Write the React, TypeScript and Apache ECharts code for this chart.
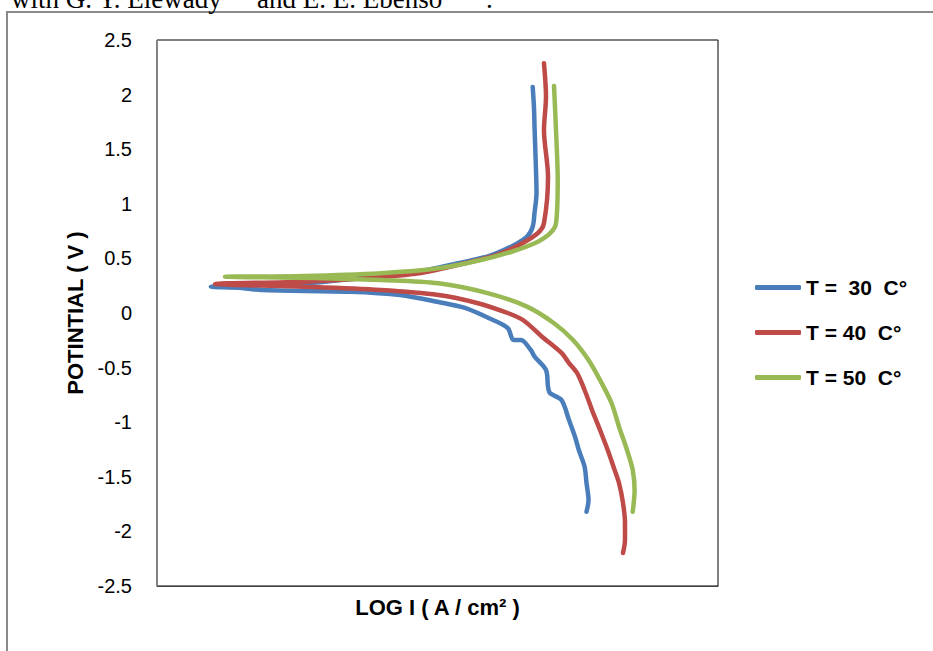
import React, { useEffect, useRef } from "react";
import * as echarts from "echarts";

// x: relative log I position (axis has no labels), y: potential (V)
const seriesNames = ["T =  30  C°", "T = 40  C°", "T = 50  C°"];
const seriesColors = ["#4A7EBB", "#BE4B48", "#98B954"];

const t30: [number, number][] = [
  [66.97, 2.07], [67.2, 1.88], [67.31, 1.68], [67.5, 1.4], [67.65, 1.1], [67.3, 0.92], [66.97, 0.79],
  [65.95, 0.7], [63.19, 0.61], [59.09, 0.52], [53.6, 0.455], [46.7, 0.38], [36.45, 0.32],
  [26.17, 0.27], [9.6, 0.24],
  [15.15, 0.23], [18.63, 0.21], [34.4, 0.195], [43.32, 0.165], [50.18, 0.1], [54.9, 0.046],
  [59.09, -0.046], [62.51, -0.137], [63.55, -0.247], [64.88, -0.247], [66.63, -0.339],
  [67.31, -0.4], [69.34, -0.522], [69.7, -0.675], [70.05, -0.733], [72.1, -0.797],
  [73.44, -0.98], [74.51, -1.133], [75.19, -1.255], [76.22, -1.408], [76.56, -1.557],
  [76.92, -1.712], [76.56, -1.82],
];

const t40: [number, number][] = [
  [68.98, 2.287], [69.34, 1.98], [68.98, 1.676], [69.7, 1.248], [68.98, 0.824], [67.91, 0.733],
  [64.53, 0.623], [60.43, 0.531], [54.9, 0.455], [46.7, 0.364], [37.08, 0.318], [26.2, 0.287],
  [10.34, 0.266],
  [26.2, 0.241], [39.89, 0.211], [50.18, 0.165], [57.04, 0.092], [62.51, 0.0], [65.24, -0.064],
  [68.63, -0.217], [72.1, -0.366], [73.44, -0.458], [74.87, -0.549], [76.22, -0.705],
  [77.54, -0.888], [78.97, -1.071], [80.34, -1.255], [81.37, -1.408], [82.35, -1.557],
  [83.07, -1.74], [83.42, -1.923], [83.42, -2.079], [83.07, -2.198],
];

const t50: [number, number][] = [
  [70.77, 2.079], [71.12, 1.676], [71.43, 1.218], [71.12, 0.821], [70.05, 0.73], [67.31, 0.638],
  [63.19, 0.561], [57.72, 0.485], [50.18, 0.409], [39.89, 0.364], [26.17, 0.339], [12.12, 0.332],
  [28.16, 0.321], [39.89, 0.302], [50.18, 0.272], [59.09, 0.18], [65.95, 0.058], [70.77, -0.094],
  [74.15, -0.247], [76.92, -0.43], [78.97, -0.614], [81.02, -0.824], [82.35, -1.041],
  [83.78, -1.255], [84.8, -1.438], [85.13, -1.621], [84.8, -1.82],
];

const seriesData = [t30, t40, t50];

const yMin = -2.5;
const yMax = 2.5;
const yInterval = 0.5;

const headerFont = "27px 'Liberation Serif', 'Times New Roman', serif";

export default function App() {
  const ref = useRef<HTMLDivElement>(null);

  useEffect(() => {
    if (!ref.current) return;
    const chart = echarts.init(ref.current, undefined, { renderer: "svg" });
    chart.setOption({
      animation: false,
      backgroundColor: "#ffffff",
      textStyle: { fontFamily: "Liberation Sans, Arial, sans-serif" },
      graphic: [
        {
          type: "rect",
          shape: { x: 7, y: 12, width: 1000, height: 700 },
          style: { fill: "none", stroke: "#8a8a8a", lineWidth: 2 },
          silent: true,
        },
        {
          type: "text",
          x: 11,
          y: 12,
          style: { text: "with G. Y. Elewady", font: headerFont, fill: "#000", verticalAlign: "bottom" },
        },
        {
          type: "text",
          x: 257,
          y: 12,
          style: { text: "and E. E. Ebenso", font: headerFont, fill: "#000", verticalAlign: "bottom" },
        },
        {
          type: "text",
          x: 486,
          y: 12,
          style: { text: ".", font: headerFont, fill: "#000", verticalAlign: "bottom" },
        },
      ],
      grid: {
        left: 157,
        top: 40,
        width: 561,
        height: 546,
        show: true,
        borderColor: "#000",
        borderWidth: 1,
        containLabel: false,
      },
      legend: {
        orient: "vertical",
        left: 750,
        top: 272,
        itemGap: 24,
        itemWidth: 46,
        itemHeight: 5,
        icon: "roundRect",
        data: seriesNames,
        textStyle: { fontSize: 21, fontWeight: "bold", color: "#000" },
      },
      xAxis: {
        type: "value",
        min: 0,
        max: 100,
        axisLabel: { show: false },
        axisTick: { show: false },
        splitLine: { show: false },
        axisLine: { show: true, onZero: false, lineStyle: { color: "#404040", width: 1 } },
        name: "LOG I ( A / cm² )",
        nameLocation: "middle",
        nameGap: 21,
        nameTextStyle: {
          fontSize: 22,
          fontWeight: "bold",
          color: "#000",
          verticalAlign: "middle",
        },
      },
      yAxis: {
        type: "value",
        min: yMin,
        max: yMax,
        interval: yInterval,
        axisLabel: { fontSize: 20, color: "#000", margin: 25 },
        axisTick: { show: false },
        splitLine: { show: false },
        axisLine: { show: true, onZero: false, lineStyle: { color: "#868686", width: 1 } },
        name: "POTINTIAL ( V )",
        nameLocation: "middle",
        nameRotate: 90,
        nameGap: 72,
        nameTextStyle: {
          fontSize: 22,
          fontWeight: "bold",
          color: "#000",
          verticalAlign: "middle",
        },
      },
      series: seriesData.map((d, i) => ({
        name: seriesNames[i],
        type: "line",
        data: d,
        showSymbol: false,
        symbol: "none",
        smooth: 0.3,
        color: seriesColors[i],
        lineStyle: { width: 4.5, color: seriesColors[i], cap: "round", join: "round" },
      })),
    });
    return () => chart.dispose();
  }, []);

  return (
    <div
      ref={ref}
      style={{ position: "fixed", left: 0, top: 0, width: 933, height: 651 }}
    />
  );
}
